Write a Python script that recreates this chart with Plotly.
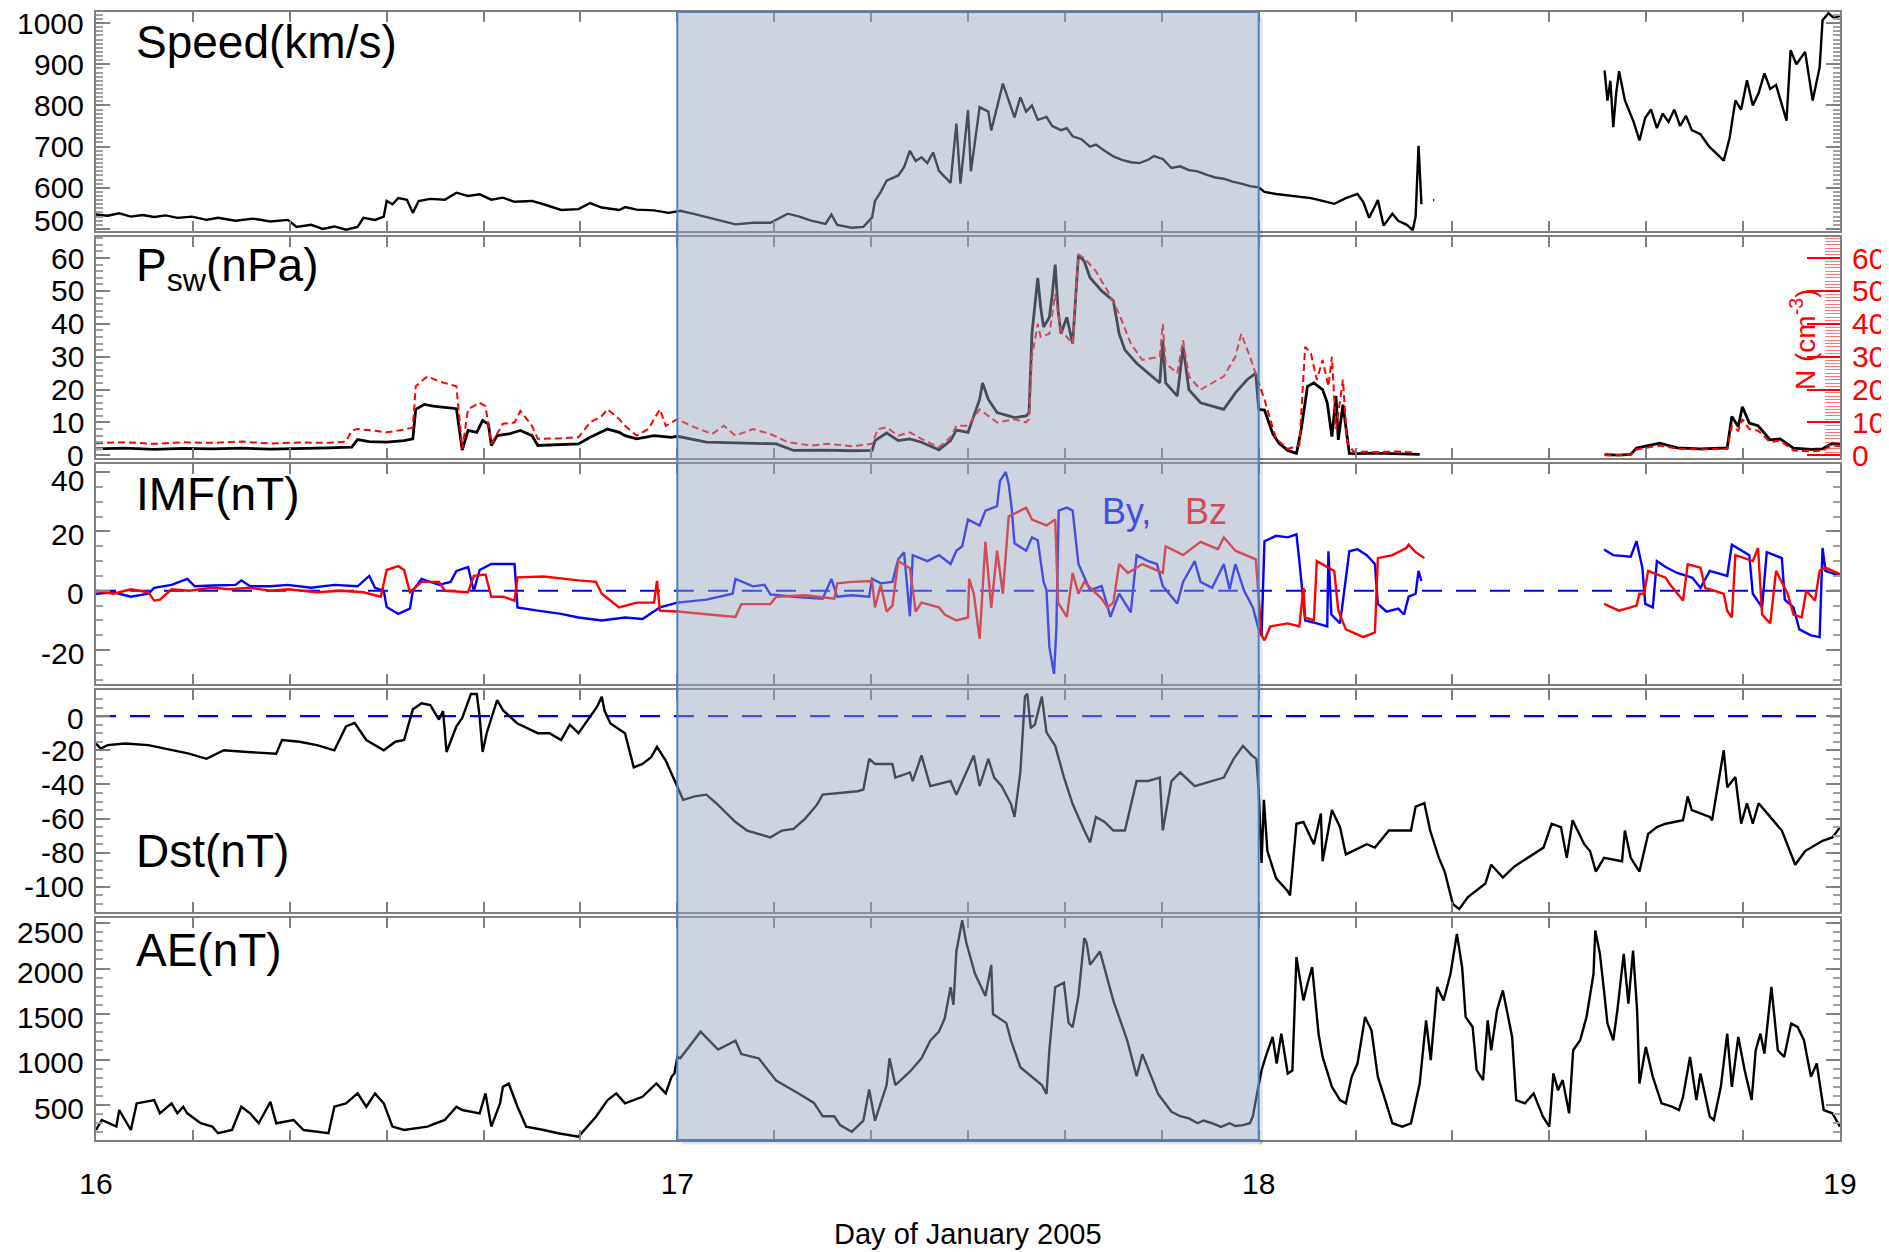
import plotly.graph_objects as go

# ---------------- data (day of January 2005) ----------------
speed_t = [16.000,16.020,16.040,16.060,16.080,16.100,16.120,16.140,16.165,16.190,16.210,16.240,16.270,16.300,16.330,16.345,16.370,16.390,16.410,16.430,16.450,16.460,16.480,16.495,16.500,16.510,16.520,16.535,16.545,16.555,16.575,16.600,16.620,16.640,16.660,16.680,16.700,16.720,16.750,16.770,16.800,16.830,16.850,16.870,16.900,16.910,16.930,16.960,16.985,
           17.005,17.030,17.060,17.100,17.130,17.160,17.190,17.210,17.230,17.255,17.265,17.275,17.300,17.320,17.335,17.340,17.350,17.360,17.380,17.390,17.400,17.410,17.420,17.430,17.440,17.450,17.470,17.480,17.487,17.500,17.505,17.520,17.535,17.540,17.560,17.580,17.590,
           17.600,17.610,17.620,17.635,17.645,17.660,17.670,17.680,17.695,17.710,17.720,17.735,17.750,17.765,17.780,17.795,17.810,17.820,17.835,17.850,17.865,17.880,17.895,17.910,17.925,17.940,17.955,17.970,17.985,
           18.000,18.010,18.030,18.060,18.090,18.110,18.130,18.150,18.170,18.180,18.190,18.200,18.205,18.215,18.230,18.240,18.255,18.265,18.270,18.275,18.280,18.290,18.300,18.302,18.400,
           18.595,18.600,18.605,18.610,18.615,18.620,18.630,18.645,18.655,18.665,18.675,18.685,18.695,18.705,18.715,18.725,18.735,18.745,18.760,18.775,18.790,18.800,18.810,18.820,18.830,18.840,18.850,18.860,18.870,18.880,18.890,18.900,18.908,18.915,18.925,18.940,18.953,18.965,18.970,18.980,18.990,19.000]
speed_v = [535,532,538,530,534,529,533,527,530,522,527,520,525,518,522,505,510,500,506,498,505,527,522,530,568,560,575,571,539,568,573,571,588,580,584,571,576,566,568,560,546,548,563,552,546,553,547,545,539,
           544,536,525,511,515,515,537,530,520,512,535,510,503,505,528,568,590,617,630,650,690,665,674,660,686,641,612,756,610,788,640,796,785,739,853,771,820,
           785,800,765,772,750,740,745,725,718,700,705,690,676,668,662,660,668,677,670,648,652,643,640,632,625,622,615,610,604,
           601,590,585,580,575,568,561,575,585,565,527,555,570,508,537,520,510,497,530,702,560,None,570,570,None,
           885,812,860,747,830,883,812,760,715,770,790,745,780,760,790,750,775,740,730,700,680,666,720,812,790,861,800,830,878,840,850,800,763,934,900,930,812,893,1007,1024,1012,1018]

psw_t = [16.000,16.050,16.100,16.150,16.200,16.250,16.300,16.350,16.400,16.440,16.450,16.470,16.500,16.530,16.545,16.550,16.565,16.580,16.600,16.620,16.630,16.640,16.655,16.665,16.675,16.680,16.690,16.710,16.730,16.750,16.760,16.800,16.830,16.850,16.880,16.900,16.910,16.930,16.960,16.990,
         17.000,17.050,17.100,17.170,17.200,17.250,17.300,17.335,17.340,17.360,17.380,17.400,17.420,17.450,17.470,17.480,17.500,17.520,17.525,17.535,17.550,17.580,17.600,17.605,17.610,17.615,17.620,17.625,17.630,17.640,17.645,17.650,17.655,17.660,17.670,17.680,17.685,17.690,17.700,17.710,17.730,17.750,17.760,17.770,17.790,17.810,17.830,17.835,17.840,17.860,17.870,17.880,17.900,17.920,17.940,17.960,17.980,17.995,
         18.000,18.010,18.024,18.035,18.050,18.065,18.073,18.084,18.095,18.110,18.118,18.126,18.133,18.137,18.145,18.156,18.170,18.200,18.240,18.277,18.400,
         18.595,18.620,18.640,18.650,18.690,18.720,18.760,18.806,18.814,18.825,18.832,18.844,18.859,18.880,18.897,18.920,18.950,18.970,18.987,19.000]
psw_v = [2.0,2.2,1.8,2.1,2.0,2.2,1.9,2.0,2.3,2.5,4.8,4.2,4.0,4.5,5.0,14.0,15.5,15.0,14.5,14.2,1.6,7.6,7.0,10.6,9.5,3.0,6.0,6.5,7.6,6.0,3.0,3.2,3.5,5.5,8.0,7.0,6.0,5.0,6.0,5.5,
         5.8,4.0,3.8,3.5,1.5,1.6,1.4,1.5,4.5,6.8,4.5,5.0,4.0,1.7,4.5,7.7,7.0,17.0,22.0,17.0,13.0,11.5,12.0,13.0,37.0,46.0,54.0,45.0,39.0,42.0,49.0,58.0,44.0,37.0,42.0,34.0,47.0,61.0,59.0,54.0,50.0,47.0,37.0,32.0,28.0,25.0,22.0,35.0,22.0,18.0,33.0,20.0,16.0,15.0,14.0,19.0,23.0,25.0,
         14.0,13.8,6.7,3.7,1.5,0.6,7.7,21.0,22.0,20.0,16.0,5.7,18.0,4.7,15.4,0.6,0.5,0.7,0.4,0.3,None,
         0.2,0.1,0.3,2.2,3.7,2.3,2.0,2.3,11.8,8.7,14.8,9.8,9.0,4.7,5.0,2.2,1.8,2.0,3.7,3.4]

dens_t = [16.000,16.050,16.100,16.150,16.200,16.250,16.300,16.350,16.400,16.430,16.440,16.450,16.480,16.500,16.530,16.545,16.550,16.570,16.590,16.620,16.630,16.640,16.660,16.670,16.680,16.700,16.720,16.730,16.750,16.760,16.800,16.830,16.850,16.870,16.880,16.900,16.910,16.930,16.950,16.970,16.980,
          17.000,17.030,17.060,17.080,17.100,17.130,17.160,17.190,17.230,17.260,17.300,17.335,17.345,17.360,17.380,17.400,17.420,17.450,17.470,17.480,17.500,17.520,17.535,17.550,17.580,17.600,17.605,17.610,17.620,17.625,17.640,17.650,17.660,17.680,17.690,17.700,17.720,17.740,17.760,17.780,17.800,17.830,17.835,17.840,17.860,17.870,17.880,17.900,17.920,17.940,17.960,17.970,17.985,
          18.000,18.010,18.030,18.050,18.070,18.080,18.090,18.100,18.110,18.120,18.126,18.133,18.145,18.152,18.163,18.200,18.240,18.270,18.400,
          18.595,18.640,18.650,18.690,18.720,18.760,18.806,18.814,18.825,18.832,18.844,18.859,18.880,18.897,18.920,18.950,18.970,18.987,19.000]
dens_v = [3.7,4.0,3.5,4.0,3.8,4.2,3.6,3.9,3.8,4.2,7.6,8.0,7.5,7.0,7.8,8.5,21.0,24.0,22.5,21.0,2.0,14.0,16.0,15.0,3.5,9.6,10.0,13.5,9.0,5.0,5.2,5.5,10.0,12.0,14.0,11.0,9.0,6.0,8.0,14.0,9.0,
          11.0,8.5,6.5,9.0,6.0,8.0,6.5,4.0,3.0,3.5,2.8,3.5,8.0,8.5,6.0,7.0,5.0,2.5,5.5,9.0,9.0,14.0,12.0,10.0,11.0,10.0,11.0,30.0,40.0,36.0,37.0,49.0,38.0,34.0,61.0,60.0,56.0,50.0,43.0,34.0,29.0,30.0,40.0,28.0,25.0,35.0,24.0,20.0,22.0,24.0,30.0,37.0,30.0,
          22.0,17.0,5.0,2.0,3.0,33.0,31.0,23.0,29.0,21.0,30.0,8.0,23.0,4.0,1.2,1.0,1.2,0.8,None,
          0.0,0.2,1.8,3.0,2.0,1.8,2.0,9.0,7.5,11.0,8.0,7.5,4.0,4.5,1.5,1.2,1.5,3.0,2.8]

by_t = [16.000,16.030,16.060,16.090,16.100,16.130,16.157,16.170,16.200,16.240,16.250,16.265,16.300,16.330,16.370,16.410,16.450,16.470,16.480,16.495,16.500,16.520,16.540,16.545,16.560,16.590,16.610,16.620,16.640,16.650,16.660,16.680,16.720,16.725,16.760,16.800,16.830,16.870,16.910,16.940,16.970,
        17.000,17.050,17.095,17.100,17.130,17.150,17.160,17.200,17.250,17.265,17.275,17.300,17.330,17.335,17.350,17.370,17.380,17.390,17.400,17.405,17.430,17.450,17.470,17.480,17.490,17.500,17.520,17.530,17.550,17.555,17.565,17.570,17.575,17.580,17.600,17.610,17.620,17.630,17.635,17.640,17.648,17.652,17.656,17.670,17.680,17.690,17.700,17.710,17.730,17.745,17.760,17.780,17.790,17.810,17.825,17.835,17.860,17.870,17.890,17.900,17.920,17.940,17.950,17.960,17.975,17.990,
        18.000,18.005,18.010,18.030,18.050,18.065,18.070,18.080,18.100,18.118,18.120,18.125,18.140,18.156,18.170,18.186,18.200,18.205,18.220,18.240,18.250,18.258,18.270,18.275,18.280,18.400,
        18.594,18.610,18.640,18.650,18.660,18.665,18.678,18.685,18.700,18.720,18.746,18.760,18.776,18.806,18.814,18.844,18.850,18.866,18.874,18.900,18.905,18.920,18.930,18.950,18.965,18.970,18.975,19.000]
by_v = [-1.0,-0.5,-2.0,-1.0,1.0,2.0,4.0,1.5,1.8,2.0,3.5,1.5,1.5,2.0,1.0,2.0,1.5,5.0,1.0,0.0,-5.5,-7.8,-6.0,0.0,4.0,2.0,3.0,6.7,8.0,0.0,7.0,9.0,9.0,-5.6,-6.7,-7.8,-9.0,-10.0,-9.0,-9.5,-5.6,
        -4.0,-3.0,-1.0,4.0,1.5,2.0,-1.2,-2.0,-2.7,4.0,-2.0,-1.5,-2.0,4.0,2.5,3.0,10.6,13.0,-8.6,12.0,10.0,12.0,9.0,13.5,15.0,24.0,22.0,27.0,28.5,37.0,40.0,36.0,28.0,16.0,13.5,18.0,17.0,3.0,0.3,-19.0,-28.0,-13.0,27.0,28.0,27.0,9.0,4.6,0.2,1.6,-8.8,-1.0,-7.3,12.0,10.0,9.0,1.6,-4.3,3.0,10.0,3.0,1.0,9.0,0.5,9.0,0.0,-5.6,
        -13.0,-15.0,16.7,18.5,18.0,19.0,10.0,-10.0,-11.0,-12.0,13.3,-8.0,-11.0,13.3,14.0,12.0,9.0,-4.4,-7.0,-6.0,-8.0,-2.0,-1.0,6.7,3.3,None,
        13.9,12.0,11.5,16.7,7.8,-4.4,-5.6,10.0,8.0,6.0,4.4,1.0,6.7,5.0,15.5,12.0,-1.0,-5.6,13.0,11.0,-3.0,-5.6,-13.0,-15.0,-15.6,14.4,6.7,5.0]

bz_t = [16.000,16.030,16.060,16.090,16.100,16.110,16.130,16.160,16.200,16.230,16.265,16.300,16.330,16.380,16.420,16.460,16.490,16.500,16.520,16.530,16.540,16.560,16.590,16.600,16.640,16.650,16.670,16.680,16.700,16.720,16.725,16.770,16.830,16.860,16.870,16.900,16.930,16.960,16.965,16.970,
        17.000,17.050,17.100,17.110,17.160,17.170,17.220,17.270,17.275,17.300,17.335,17.340,17.350,17.360,17.370,17.380,17.400,17.410,17.420,17.450,17.460,17.480,17.500,17.502,17.510,17.520,17.530,17.540,17.550,17.560,17.570,17.600,17.610,17.635,17.650,17.655,17.670,17.680,17.690,17.700,17.730,17.740,17.750,17.760,17.775,17.800,17.835,17.840,17.870,17.900,17.930,17.940,17.960,17.995,
        18.000,18.005,18.010,18.020,18.050,18.070,18.077,18.080,18.095,18.100,18.130,18.137,18.150,18.180,18.200,18.205,18.230,18.254,18.258,18.270,18.285,18.400,
        18.594,18.620,18.650,18.655,18.663,18.670,18.700,18.708,18.730,18.738,18.760,18.768,18.800,18.806,18.814,18.820,18.850,18.859,18.866,18.880,18.890,18.910,18.920,18.934,18.942,18.957,18.965,18.975,19.000]
bz_v = [0.0,-1.0,0.5,-0.5,-3.3,-3.0,0.5,0.0,1.0,0.5,1.0,0.0,0.5,-0.5,0.0,-0.5,-2.0,7.0,8.3,7.0,-0.5,3.0,3.0,0.0,-0.5,5.0,5.5,-2.0,-2.0,-3.3,4.5,4.8,3.5,3.0,-1.0,-5.6,-4.0,-4.0,3.3,-6.7,
        -7.0,-8.0,-8.8,-4.5,-4.5,-2.0,-1.5,-2.7,2.5,3.0,3.3,-5.6,2.0,-7.0,-5.0,10.0,7.6,-7.0,-4.0,-5.6,-8.0,-10.0,-9.0,4.0,-1.0,-16.2,16.5,-5.8,13.5,-1.0,25.0,28.0,24.0,22.0,24.0,-4.0,-8.8,6.0,-1.0,3.0,-2.7,-5.6,-4.0,9.0,6.0,9.0,6.0,15.0,12.0,16.5,14.0,18.0,13.5,10.6,
        -1.0,-15.0,-16.7,-12.0,-11.0,-12.0,1.0,-9.0,-10.0,10.0,6.7,-6.7,-13.0,-15.6,-14.0,11.0,12.0,14.4,15.5,13.0,11.0,None,
        -4.4,-6.7,-5.0,-1.0,-1.0,6.7,4.4,2.0,-3.3,8.9,7.8,1.0,-1.0,-6.7,-9.0,12.0,10.0,14.4,-8.0,-11.0,6.7,-1.0,-8.0,-9.0,0.0,-3.3,6.7,7.8,5.6]

dst_t = [16.000,16.008,16.020,16.050,16.090,16.120,16.160,16.190,16.220,16.260,16.310,16.320,16.350,16.380,16.410,16.430,16.445,16.465,16.495,16.515,16.530,16.545,16.560,16.575,16.590,16.597,16.603,16.620,16.630,16.645,16.655,16.660,16.665,16.672,16.690,16.700,16.725,16.760,16.780,16.800,16.815,16.830,16.850,16.862,16.870,16.875,16.885,16.910,16.925,16.940,16.955,16.965,16.980,16.990,
         17.000,17.010,17.030,17.050,17.070,17.100,17.120,17.140,17.160,17.180,17.200,17.220,17.240,17.250,17.280,17.310,17.320,17.330,17.340,17.370,17.375,17.400,17.405,17.420,17.435,17.470,17.480,17.500,17.510,17.520,17.535,17.545,17.558,17.574,17.580,17.590,17.598,17.602,17.608,17.615,17.627,17.635,17.650,17.665,17.680,17.700,17.710,17.720,17.735,17.750,17.770,17.790,17.810,17.830,17.835,17.850,17.865,17.890,17.940,17.957,17.973,17.988,17.996,
         18.000,18.005,18.009,18.015,18.030,18.050,18.054,18.065,18.077,18.095,18.107,18.110,18.118,18.126,18.140,18.150,18.186,18.200,18.224,18.262,18.270,18.285,18.295,18.310,18.320,18.334,18.345,18.360,18.390,18.400,18.420,18.440,18.490,18.504,18.520,18.530,18.540,18.560,18.570,18.580,18.594,18.625,18.630,18.640,18.655,18.670,18.685,18.700,18.730,18.738,18.745,18.776,18.780,18.800,18.806,18.820,18.830,18.840,18.850,18.860,18.880,18.900,18.923,18.940,18.970,18.987,19.000]
dst_v = [-16,-19,-17,-16,-17,-19,-22,-25,-20,-21,-22,-14,-15,-17,-20,-6,-4,-14,-20,-15,-14,4,7.5,6.5,-2,3,-21,-6,-1,13,13,-0.4,-21,-10,9.4,3.5,-4.3,-10,-10,-14,-5,-10,0,5.5,11.4,3,-4.3,-10,-30,-28,-24,-18,-26,-34,
         -41.5,-49,-47,-46,-52,-62,-67,-69,-71,-67,-66,-60,-52,-46,-45,-44,-43,-25,-28,-28,-36,-33,-38,-23,-41,-38,-46,-30.5,-23,-41,-25,-36,-41,-51.5,-59,-33,11.5,13,-7,-5,11.5,-9.5,-17.4,-35.7,-51.5,-67,-74,-59,-62,-67,-67,-38,-38,-36,-67,-38,-33,-41,-36,-25,-17.4,-23,-25,
         -44,-86,-49,-79,-95,-102.5,-105,-63,-62,-75,-57,-85,-70,-55,-65,-81,-75,-77,-67,-67,-53,-51,-67,-83,-91,-110,-113,-106,-98,-87,-94.5,-88,-77,-63,-65,-83,-61,-75,-79,-91,-83,-85,-67,-83,-91,-69,-65,-63,-61,-47,-55,-59,-61,-20,-41.6,-35.7,-63,-51,-63,-51,-59,-67,-87,-79,-73,-71,-65]

ae_t = [16.000,16.010,16.035,16.040,16.060,16.070,16.100,16.110,16.130,16.140,16.150,16.157,16.180,16.200,16.210,16.234,16.250,16.265,16.280,16.300,16.310,16.340,16.357,16.400,16.410,16.430,16.450,16.465,16.480,16.495,16.510,16.530,16.570,16.600,16.620,16.630,16.660,16.670,16.680,16.695,16.700,16.710,16.725,16.740,16.770,16.795,16.830,16.850,16.860,16.880,16.895,16.910,16.940,16.964,16.980,16.990,16.995,
        17.000,17.005,17.040,17.070,17.100,17.110,17.140,17.170,17.210,17.235,17.250,17.270,17.280,17.300,17.320,17.330,17.340,17.360,17.365,17.375,17.400,17.420,17.435,17.450,17.460,17.470,17.475,17.480,17.490,17.497,17.512,17.530,17.540,17.543,17.566,17.574,17.590,17.627,17.635,17.640,17.650,17.665,17.673,17.680,17.690,17.700,17.704,17.710,17.727,17.740,17.750,17.774,17.790,17.800,17.812,17.827,17.850,17.865,17.880,17.895,17.905,17.920,17.935,17.950,17.960,17.973,17.985,17.990,
        18.000,18.005,18.012,18.024,18.031,18.039,18.050,18.058,18.065,18.077,18.084,18.092,18.103,18.110,18.126,18.140,18.150,18.160,18.170,18.183,18.194,18.205,18.216,18.230,18.247,18.262,18.277,18.288,18.296,18.307,18.318,18.330,18.341,18.350,18.356,18.368,18.375,18.386,18.394,18.400,18.410,18.420,18.436,18.443,18.458,18.473,18.489,18.500,18.507,18.515,18.523,18.534,18.541,18.553,18.564,18.576,18.579,18.587,18.594,18.600,18.610,18.617,18.628,18.636,18.644,18.651,18.655,18.666,18.678,18.693,18.711,18.723,18.730,18.742,18.753,18.760,18.776,18.783,18.795,18.806,18.814,18.825,18.836,18.848,18.855,18.863,18.870,18.882,18.893,18.904,18.916,18.927,18.938,18.950,18.960,18.972,18.987,19.000]
ae_v = [226,336,263,445,226,518,555,409,518,409,482,409,300,263,190,226,482,409,300,536,300,336,226,190,482,518,628,482,628,518,263,226,263,336,482,445,409,628,263,518,700,737,482,263,226,190,153,300,372,555,628,518,591,737,628,810,847,
        1029,1013,1306,1110,1208,1060,1013,768,622,524,377,377,279,206,328,671,328,720,1013,720,866,1013,1208,1306,1453,1795,1600,2187,2530,2285,1942,1697,2040,1500,1400,1208,915,720,622,1110,1795,1844,1404,1355,1697,2334,2285,2040,2187,1893,1648,1208,817,1060,866,622,426,377,353,300,330,300,260,300,270,279,300,377,
        720,883,1029,1248,956,1285,847,880,2125,1650,1833,2015,1285,1029,700,555,518,810,956,1468,1322,810,591,300,263,300,737,1431,993,1797,1650,1942,2380,2015,1468,1358,883,774,1431,1102,1541,1760,1248,555,518,628,372,263,847,664,774,409,1102,1212,1468,1942,2417,2161,1760,1395,1212,1541,2161,1614,2198,1541,737,1139,810,518,482,445,591,1029,555,847,372,336,700,1285,700,1248,883,555,1102,1285,1066,1797,1102,1029,1395,1358,1212,810,956,445,409,263]

# axis tick values / labels
day_ticks = [16, 17, 18, 19]
speed_ticks = [500, 600, 700, 800, 900, 1000]
psw_ticks = [0, 10, 20, 30, 40, 50, 60]
imf_ticks = [-20, 0, 20, 40]
dst_ticks = [-100, -80, -60, -40, -20, 0]
ae_ticks = [500, 1000, 1500, 2000, 2500]
event_start, event_end = 17, 18

# ---------------- layout geometry (screen pixels) ----------------
W, H = 1889, 1252
BODY = 8                          # default page margin around the plot div
L, R, T, B = 96, 49, 12, 112      # wanted plot-area position on screen
PW, PH = W - L - R, H - T - B
panels = [(12, 231), (237, 458), (464, 684), (690, 912), (918, 1140)]


def dom(top, bot):
    return [(H - B - bot) / PH, (H - B - top) / PH]


def xp(px):
    return (px - L) / PW


def yp(py):
    return (H - B - py) / PH


FONT = "Liberation Sans, Arial, Helvetica, sans-serif"
AXC = "#808080"

fig = go.Figure()
black = dict(color="black", width=2.4)
fig.add_trace(go.Scatter(x=speed_t, y=speed_v, mode="lines", line=black, xaxis="x", yaxis="y"))
fig.add_trace(go.Scatter(x=psw_t, y=psw_v, mode="lines", line=dict(color="black", width=2.8), xaxis="x2", yaxis="y2"))
fig.add_trace(go.Scatter(x=dens_t, y=dens_v, mode="lines", line=dict(color="#ff0000", width=2, dash="7px,4px"), xaxis="x2", yaxis="y6"))
fig.add_trace(go.Scatter(x=by_t, y=by_v, mode="lines", line=dict(color="#0000ff", width=2.4), xaxis="x3", yaxis="y3"))
fig.add_trace(go.Scatter(x=bz_t, y=bz_v, mode="lines", line=dict(color="#ff0000", width=2.4), xaxis="x3", yaxis="y3"))
fig.add_trace(go.Scatter(x=dst_t, y=dst_v, mode="lines", line=black, xaxis="x4", yaxis="y4"))
fig.add_trace(go.Scatter(x=ae_t, y=ae_v, mode="lines", line=black, xaxis="x5", yaxis="y5"))

layout = dict(width=W, height=H,
              margin=dict(l=L - BODY, r=R + BODY, t=T - BODY, b=B + BODY, pad=0, autoexpand=False),
              paper_bgcolor="white", plot_bgcolor="white", showlegend=False,
              font=dict(family=FONT, size=30, color="black"))

# (axis, range, tick values, minor step, mirror, per-label vertical shifts in px)
yinfo = [
    ("yaxis", [495, 1027], speed_ticks, 10, "allticks", {500: 8}),
    ("yaxis2", [-0.8, 66.4], psw_ticks, 2, True, {}),
    ("yaxis3", [-31.4, 42.7], imf_ticks, 5, "allticks", {40: -8, 20: -3, 0: -3, -20: -3}),
    ("yaxis4", [-114.7, 15.3], dst_ticks, 5, "allticks", {0: -2}),
    ("yaxis5", [116, 2555], ae_ticks, 100, "allticks", {2500: -9, 2000: -4, 1500: -3, 1000: -3, 500: -3}),
]
ann = []
for i, (name, rng, tv, mdt, mir, shifts) in enumerate(yinfo):
    n = i + 1
    xname = "xaxis" if n == 1 else f"xaxis{n}"
    xa = dict(domain=[0, 1], range=[16, 19], anchor="y" if n == 1 else f"y{n}",
              showline=True, linecolor=AXC, linewidth=2, mirror="allticks",
              ticks="inside", ticklen=10, tickwidth=2, tickcolor=AXC,
              tickvals=day_ticks, showticklabels=(n == 5), automargin=False,
              minor=dict(dtick=1 / 6, tick0=16, ticks="inside", ticklen=10, tickwidth=2, tickcolor=AXC),
              showgrid=False, zeroline=False)
    if n == 5:
        xa.update(ticktext=[str(d) for d in day_ticks], ticklabelstandoff=16, tickfont=dict(size=30))
    else:
        xa["matches"] = "x5"
    layout[xname] = xa
    layout[name] = dict(domain=dom(*panels[i]), range=rng, anchor="x" if n == 1 else f"x{n}",
                        showline=True, linecolor=AXC, linewidth=2, mirror=mir,
                        ticks="inside", ticklen=14, tickwidth=2, tickcolor=AXC,
                        tickvals=tv, showticklabels=False, automargin=False,
                        minor=dict(dtick=mdt, ticks="inside", ticklen=7, tickwidth=1.5, tickcolor="#a0a0a0"),
                        showgrid=False, zeroline=False)
    yref = "y" if n == 1 else f"y{n}"
    for v in tv:
        ann.append(dict(text=str(v), x=xp(85), y=v, xref="paper", yref=yref, showarrow=False,
                        xanchor="right", yanchor="middle", yshift=shifts.get(v, 0), borderpad=0,
                        font=dict(family=FONT, size=30, color="black")))

layout["yaxis6"] = dict(overlaying="y2", side="right", anchor="x2", range=[-0.8, 66.4],
                        showline=False, ticks="inside", ticklen=33, tickwidth=2, tickcolor="#ff0000",
                        tickvals=psw_ticks, showticklabels=False, automargin=False,
                        minor=dict(dtick=1, ticks="inside", ticklen=15, tickwidth=1, tickcolor="rgba(255,60,60,0.7)"),
                        showgrid=False, zeroline=False)
for v in psw_ticks:
    ann.append(dict(text=str(v), x=xp(1851), y=v, xref="paper", yref="y6", showarrow=False,
                    xanchor="left", yanchor="middle", borderpad=0,
                    font=dict(family=FONT, size=30, color="#ff0000")))

shapes = []
# dashed zero lines
for ax in ("3", "4"):
    shapes.append(dict(type="line", xref=f"x{ax} domain", yref=f"y{ax}", x0=0, x1=1, y0=0, y1=0,
                       line=dict(color="#0000ff", width=2.2, dash="20px,14px"), layer="below"))
# soft shadow of the highlight box
shapes.append(dict(type="rect", xref="x5", yref="paper", x0=event_end, x1=event_end + 0.007, y0=-0.004, y1=0.996,
                   fillcolor="rgba(0,0,0,0.10)", line=dict(width=0), layer="above"))
shapes.append(dict(type="rect", xref="x5", yref="paper", x0=event_start + 0.007, x1=event_end + 0.007, y0=-0.004, y1=0,
                   fillcolor="rgba(0,0,0,0.10)", line=dict(width=0), layer="above"))
# highlight box
shapes.append(dict(type="rect", xref="x5", yref="paper", x0=event_start, x1=event_end, y0=0, y1=1,
                   fillcolor="rgba(149,164,186,0.47)", line=dict(color="#4f81bd", width=2), layer="above"))
layout["shapes"] = shapes


def label(text, px, py, size=46, color="black", xanchor="left", angle=0):
    ann.append(dict(text=text, x=xp(px), y=yp(py), xref="paper", yref="paper", showarrow=False,
                    xanchor=xanchor, yanchor="middle", textangle=angle,
                    font=dict(family=FONT, size=size, color=color)))


label("Speed(km/s)", 134, 42)
label("P<sub>sw</sub>(nPa)", 134, 268)
label("IMF(nT)", 134, 494)
label("By,", 1100, 511, size=36, color="#464dde")
label("Bz", 1183, 511, size=36, color="#cd4d57")
label("Dst(nT)", 134, 851)
label("AE(nT)", 134, 950)
label("Day of January 2005", 968, 1234, size=29, xanchor="center")
label("N (cm<sup>-3</sup>)", 1803, 340, size=28, color="#ff0000", xanchor="center", angle=-90)
layout["annotations"] = ann

fig.update_layout(**layout)
fig.write_html("out.html")
